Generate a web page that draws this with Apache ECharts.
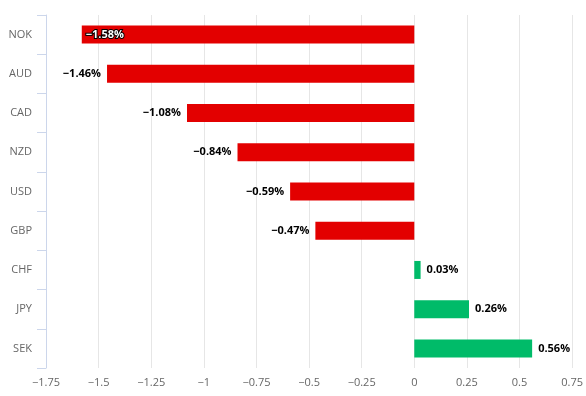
<!DOCTYPE html>
<html>
<head>
<meta charset="utf-8">
<script src="https://cdn.jsdelivr.net/npm/echarts@6/dist/echarts.min.js"></script>
<style>
    html, body { margin: 0; padding: 0; background: #fff; }
    #chart { width: 586px; height: 396px; }
</style>
</head>
<body>
<div id="chart"></div>
<script>
// 货币
const currencies = ["NOK", "AUD", "CAD", "NZD", "USD", "GBP", "CHF", "JPY", "SEK"];
// 涨跌幅 (%)
const changes = [-1.58, -1.46, -1.08, -0.84, -0.59, -0.47, 0.03, 0.26, 0.56];

const fmt = v => (v < 0 ? "\u2212" + Math.abs(v).toFixed(2) : v.toFixed(2)) + "%";

const chart = echarts.init(document.getElementById("chart"));

const barData = changes.map((v, i) => {
    const item = {
        value: v,
        itemStyle: { color: v < 0 ? "#e30000" : "#00bb69" },
        label: { position: v < 0 ? "left" : "right" }
    };
    // 最长的那根放进柱子里面
    if (i === 0) {
        item.label = {
            position: "insideLeft",
            distance: 4,
            color: "#fff",
            textBorderColor: "#000",
            textBorderWidth: 2
        };
    }
    return item;
});

chart.setOption({
    animation: false,
    textStyle: { fontFamily: "Open Sans" },
    grid: { top: 15, bottom: 28, left: 46, right: 13, containLabel: false },
    xAxis: {
        type: "value",
        min: -1.75,
        max: 0.75,
        interval: 0.25,
        axisLine: { show: false },
        axisTick: { show: false },
        axisLabel: {
            color: "#666",
            fontSize: 11,
            margin: 9,
            formatter: v => (v < 0 ? "\u2212" + Math.abs(v) : String(v))
        },
        splitLine: { show: true, lineStyle: { color: "#e6e6e6" } }
    },
    yAxis: {
        type: "category",
        data: currencies,
        inverse: true,
        axisLine: { show: true, onZero: false, lineStyle: { color: "#ccd6eb" } },
        axisTick: { show: true, length: 9, lineStyle: { color: "#ccd6eb" } },
        axisLabel: { color: "#666", fontSize: 11, margin: 14 },
        splitLine: { show: false }
    },
    series: [{
        type: "bar",
        data: barData,
        barWidth: 18,
        label: {
            show: true,
            color: "#000",
            fontSize: 11,
            fontWeight: "bold",
            distance: 6,
            formatter: p => fmt(p.value)
        }
    }]
});
</script>
</body>
</html>
